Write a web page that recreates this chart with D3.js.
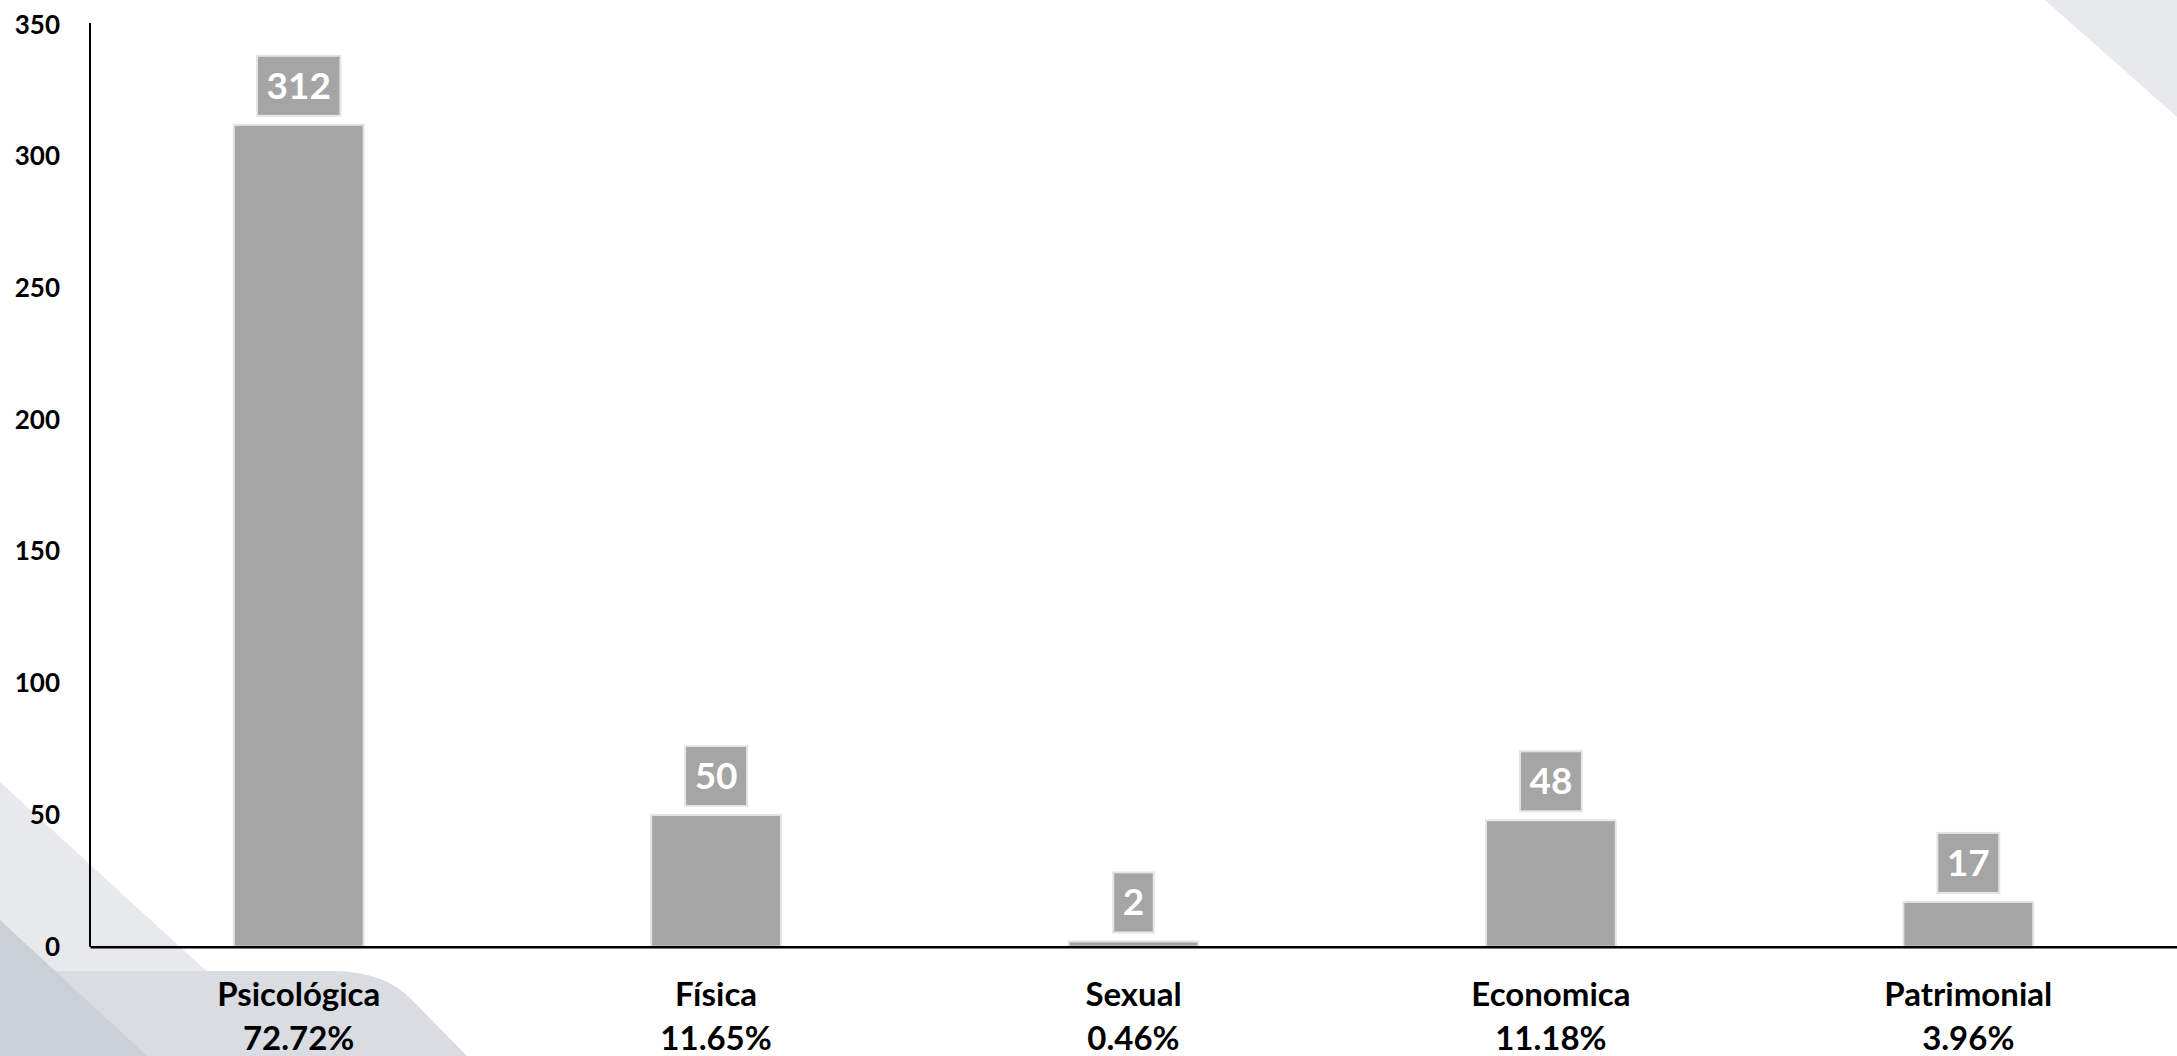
<!DOCTYPE html>
<html><head><meta charset="utf-8">
<script src="https://cdn.jsdelivr.net/npm/d3@7"></script>
<style>html,body{margin:0;padding:0;background:#fff;}svg{display:block;}</style>
</head><body>
<svg id="chart" width="2177" height="1056"></svg>
<script>
const categories = ["Psicológica", "Física", "Sexual", "Economica", "Patrimonial"];
const values = [312, 50, 2, 48, 17];
const percents = ["72.72%", "11.65%", "0.46%", "11.18%", "3.96%"];
const yTicks = [0, 50, 100, 150, 200, 250, 300, 350];

const W = 2177, H = 1056;
const svg = d3.select("#chart");
const FONT = "Lato, 'Open Sans', sans-serif";

// background decoration
const deco = svg.append("g");
deco.append("path").attr("d", "M0,782 L299,1056 L0,1056 Z").attr("fill", "#e8e9ec");
deco.append("path").attr("d", "M0,971 L333,971 Q385,971 413,1001 L467,1056 L0,1056 Z").attr("fill", "#d9dce0");
deco.append("path").attr("d", "M0,920 L147,1056 L0,1056 Z").attr("fill", "#cbd0d6");
deco.append("path").attr("d", "M2045,0 L2177,0 L2177,117 Z").attr("fill", "#e8e9ec");

const x = d3.scaleBand().domain(categories).range([90, 2177]).paddingInner(0.689).paddingOuter(0.3445);
const y = d3.scaleLinear().domain([0, 350]).range([946.7, 24.7]);

// bars
svg.append("g").selectAll("rect").data(values).join("rect")
  .attr("x", (d, i) => x(categories[i]))
  .attr("y", d => y(d))
  .attr("width", x.bandwidth())
  .attr("height", d => y(0) - y(d))
  .attr("fill", "#a5a5a5")
  .attr("stroke", "#e4e4e4")
  .attr("stroke-width", 2);

// y axis
const yAxis = d3.axisLeft(y).tickValues(yTicks).tickSize(0).tickPadding(30);
const ya = svg.append("g").attr("transform", "translate(90,0)").call(yAxis);
ya.select(".domain").remove();
ya.selectAll("text").attr("font-family", FONT).attr("font-weight", "bold").attr("font-size", 26).attr("fill", "#000");
svg.append("line").attr("x1", 90).attr("x2", 90).attr("y1", 23).attr("y2", y(0)).attr("stroke", "#000").attr("stroke-width", 2);

// x axis
const xAxis = d3.axisBottom(x).tickSize(0).tickFormat(() => "");
const xa = svg.append("g").attr("transform", `translate(0,${y(0)})`).call(xAxis);
xa.select(".domain").attr("stroke", "#000").attr("stroke-width", 2.5);

const xl = svg.append("g");
categories.forEach((c, i) => {
  const cx = x(c) + x.bandwidth() / 2;
  const t = xl.append("text").attr("x", cx).attr("y", 1006).attr("text-anchor", "middle")
    .attr("font-family", FONT).attr("font-weight", "bold").attr("font-size", 33).attr("fill", "#000");
  t.append("tspan").attr("x", cx).attr("y", 1006).text(c);
  t.append("tspan").attr("x", cx).attr("y", 1050).text(percents[i]);
});

// value labels
const lg = svg.append("g");
values.forEach((v, i) => {
  const cx = x(categories[i]) + x.bandwidth() / 2;
  const g = lg.append("g");
  const rect = g.append("rect");
  const txt = g.append("text").attr("x", cx).attr("text-anchor", "middle")
    .attr("font-family", FONT).attr("font-weight", "bold").attr("font-size", 37).attr("fill", "#fff")
    .text(v);
  const tw = txt.node().getComputedTextLength();
  const bw = tw + 19, bh = 60;
  const bottom = y(v) - 9;
  rect.attr("x", cx - bw / 2).attr("y", bottom - bh).attr("width", bw).attr("height", bh)
    .attr("fill", "#a5a5a5").attr("stroke", "#e4e4e4").attr("stroke-width", 2);
  txt.attr("y", bottom - bh / 2 + 13);
});
</script>
</body></html>
